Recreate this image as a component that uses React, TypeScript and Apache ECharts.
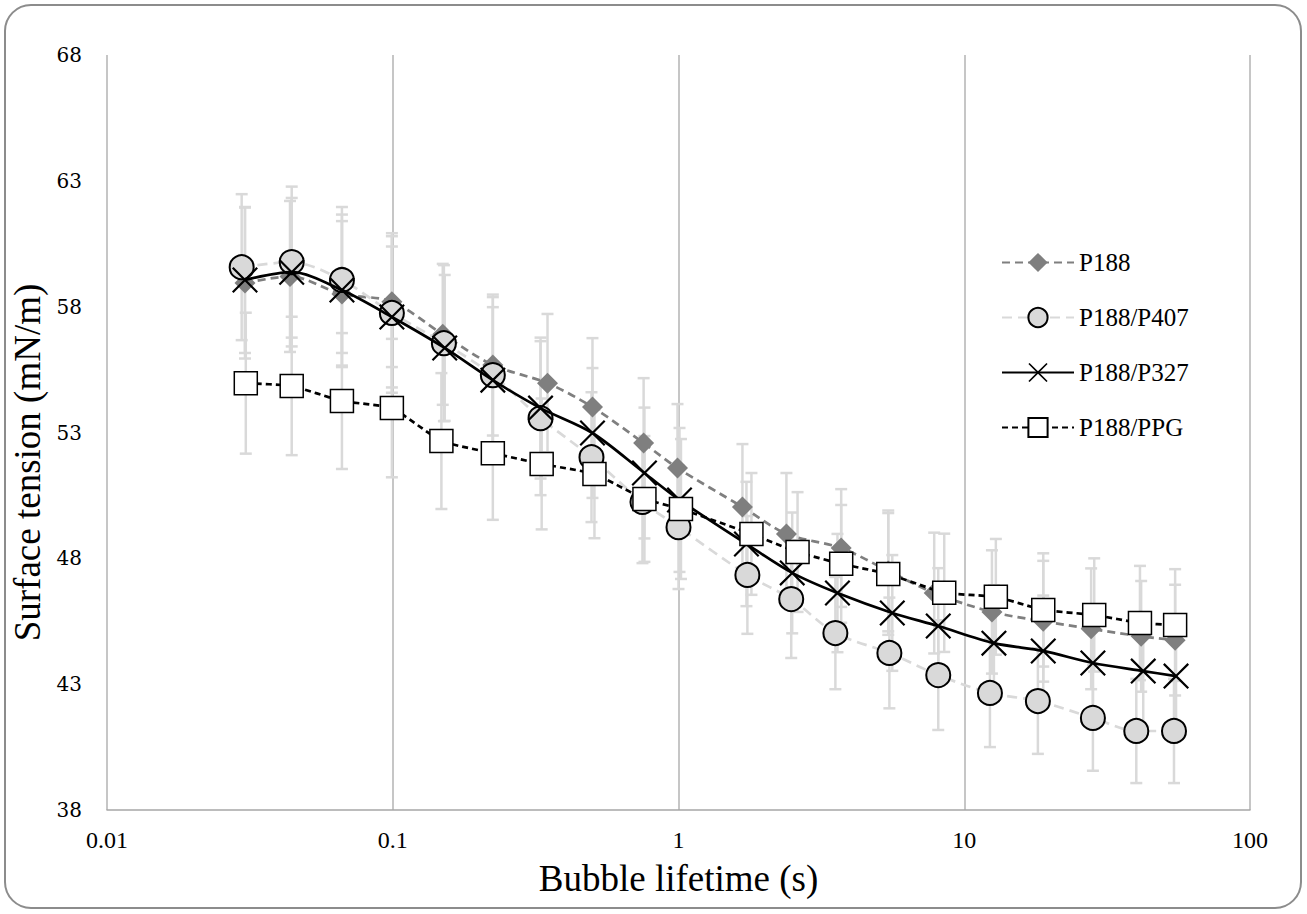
import React, { useEffect, useRef } from "react";
import * as echarts from "echarts";

// ---- data ----
const P188_X = [0.0304, 0.0437, 0.0664, 0.0993, 0.1496, 0.224, 0.348, 0.5, 0.755, 0.992, 1.674, 2.386, 3.71, 5.42, 7.85, 12.5, 18.9, 27.8, 41.6, 54.7];
const P188_Y = [58.94, 59.2, 58.5, 58.2, 56.9, 55.68, 54.96, 54.01, 52.58, 51.59, 50.04, 48.97, 48.41, 47.5, 46.62, 45.87, 45.5, 45.2, 44.9, 44.75];
const P188_ERR = [3.0, 3.0, 2.9, 2.6, 2.8, 2.8, 2.75, 2.74, 2.58, 2.54, 2.5, 2.42, 2.34, 2.4, 2.4, 2.45, 2.4, 2.4, 2.2, 2.2];

const P407_X = [0.0296, 0.0443, 0.0664, 0.0993, 0.151, 0.224, 0.329, 0.496, 0.748, 1.0, 1.742, 2.48, 3.54, 5.47, 8.11, 12.3, 18.1, 28.2, 40.0, 54.2];
const P407_Y = [59.57, 59.77, 59.06, 57.75, 56.55, 55.28, 53.57, 52.02, 50.24, 49.24, 47.34, 46.38, 45.03, 44.24, 43.36, 42.65, 42.33, 41.66, 41.14, 41.14];
const P407_ERR = [2.9, 3.0, 2.9, 3.17, 3.1, 3.1, 3.06, 2.58, 2.43, 2.46, 2.34, 2.34, 2.23, 2.2, 2.18, 2.15, 2.1, 2.1, 2.07, 2.07];

const P327_X = [0.0304, 0.0443, 0.0664, 0.0993, 0.152, 0.224, 0.329, 0.5, 0.76, 1.008, 1.729, 2.5, 3.6, 5.6, 8.11, 12.7, 18.9, 28.2, 42.3, 55.1];
const P327_Y = [59.06, 59.37, 58.66, 57.59, 56.36, 55.08, 53.97, 52.98, 51.39, 50.32, 48.57, 47.42, 46.62, 45.83, 45.31, 44.63, 44.32, 43.84, 43.52, 43.32];
const P327_ERR = [2.9, 2.95, 3.0, 2.8, 2.9, 2.9, 2.8, 2.58, 2.6, 2.86, 2.47, 2.4, 2.35, 2.3, 2.3, 2.3, 2.2, 2.2, 2.2, 2.2];

const PPG_X = [0.0306, 0.0443, 0.0664, 0.0993, 0.148, 0.224, 0.332, 0.508, 0.76, 1.02, 1.8, 2.61, 3.71, 5.42, 8.51, 12.9, 18.9, 28.5, 41.2, 54.7];
const PPG_Y = [54.96, 54.85, 54.25, 53.97, 52.66, 52.18, 51.75, 51.35, 50.36, 49.96, 48.97, 48.25, 47.78, 47.38, 46.63, 46.47, 45.95, 45.75, 45.43, 45.35];
const PPG_ERR = [2.8, 2.75, 2.7, 2.75, 2.7, 2.65, 2.6, 2.55, 2.5, 2.78, 2.42, 2.38, 2.34, 2.42, 2.35, 2.3, 2.25, 2.25, 2.27, 2.22];

const SERIES_NAMES = ["P188", "P188/P407", "P188/P327", "P188/PPG"];
const X_MIN = 0.01;
const X_MAX = 100;
const Y_MIN = 38;
const Y_MAX = 68;
const Y_STEP = 5;

const X_SYMBOL =
  "path://M0,6 L6,0 L50,44 L94,0 L100,6 L56,50 L100,94 L94,100 L50,56 L6,100 L0,94 L44,50 Z";

export default function App() {
  const ref = useRef<HTMLDivElement>(null);

  useEffect(() => {
    const chart = echarts.init(ref.current!, null, { renderer: "svg" });
    const serif = "Liberation Serif";

    const pts = (xs: number[], ys: number[]) => xs.map((x, i) => [x, ys[i]]);

    const errSeries = (name: string, xs: number[], ys: number[], errs: number[]) => ({
      type: "custom",
      name: name + " error",
      z: 1,
      silent: true,
      data: xs.map((x, i) => [x, ys[i] - errs[i], ys[i] + errs[i]]),
      encode: { x: 0, y: [1, 2] },
      renderItem: (_params: any, api: any) => {
        const x = api.value(0);
        const lo = api.coord([x, api.value(1)]);
        const hi = api.coord([x, api.value(2)]);
        const hw = 6;
        const style = { stroke: "#d9d9d9", lineWidth: 2.5 };
        return {
          type: "group",
          children: [
            { type: "line", shape: { x1: lo[0], y1: lo[1], x2: hi[0], y2: hi[1] }, style },
            { type: "line", shape: { x1: lo[0] - hw, y1: lo[1], x2: lo[0] + hw, y2: lo[1] }, style },
            { type: "line", shape: { x1: hi[0] - hw, y1: hi[1], x2: hi[0] + hw, y2: hi[1] }, style },
          ],
        };
      },
    });

    chart.setOption({
      animation: false,
      backgroundColor: "#ffffff",
      graphic: [
        {
          type: "rect",
          x: 5,
          y: 5,
          shape: { width: 1296, height: 903, r: 26 },
          style: { fill: "none", stroke: "#8c8c8c", lineWidth: 2 },
          z: -10,
          silent: true,
        },
      ],
      grid: { left: 107, right: 57, top: 55, bottom: 104 },
      legend: {
        data: SERIES_NAMES,
        orient: "vertical",
        left: 996,
        top: 245,
        itemWidth: 72,
        itemHeight: 24,
        itemGap: 30,
        textStyle: { fontFamily: serif, fontSize: 25, color: "#000" },
      },
      xAxis: {
        type: "log",
        logBase: 10,
        min: X_MIN,
        max: X_MAX,
        name: "Bubble lifetime (s)",
        nameLocation: "middle",
        nameGap: 50,
        nameTextStyle: { fontFamily: serif, fontSize: 37, color: "#000" },
        axisLine: { show: true, lineStyle: { color: "#a6a6a6", width: 1.5 } },
        axisTick: { show: false },
        axisLabel: {
          fontFamily: serif,
          fontSize: 24,
          color: "#000",
          margin: 18,
          formatter: (v: number) => String(Number(v.toPrecision(6))),
        },
        splitLine: { show: true, lineStyle: { color: "#b3b3b3", width: 1.5 } },
      },
      yAxis: {
        type: "value",
        min: Y_MIN,
        max: Y_MAX,
        interval: Y_STEP,
        name: "Surface tension (mN/m)",
        nameLocation: "middle",
        nameGap: 46,
        nameTextStyle: { fontFamily: serif, fontSize: 37, color: "#000", padding: [0, 60, 0, 0] },
        axisLine: { show: false },
        axisTick: { show: false },
        splitLine: { show: false },
        axisLabel: { fontFamily: "DejaVu Serif", fontSize: 20, color: "#000", margin: 25 },
      },
      series: [
        errSeries("P188", P188_X, P188_Y, P188_ERR),
        errSeries("P188/P407", P407_X, P407_Y, P407_ERR),
        errSeries("P188/P327", P327_X, P327_Y, P327_ERR),
        errSeries("P188/PPG", PPG_X, PPG_Y, PPG_ERR),
        {
          type: "line",
          name: "P188",
          z: 2,
          data: pts(P188_X, P188_Y),
          smooth: 0.3,
          symbol: "diamond",
          symbolSize: 21,
          itemStyle: { color: "#7f7f7f" },
          lineStyle: { color: "#7f7f7f", width: 2.7, type: [8, 5] },
        },
        {
          type: "line",
          name: "P188/P407",
          z: 3,
          data: pts(P407_X, P407_Y),
          smooth: 0.3,
          symbol: "circle",
          symbolSize: 24,
          itemStyle: { color: "#d9d9d9", borderColor: "#000", borderWidth: 2 },
          lineStyle: { color: "#d9d9d9", width: 2.7, type: [10, 6] },
        },
        {
          type: "line",
          name: "P188/P327",
          z: 4,
          data: pts(P327_X, P327_Y),
          smooth: 0.3,
          symbol: X_SYMBOL,
          symbolSize: 26,
          itemStyle: { color: "#000" },
          lineStyle: { color: "#000", width: 2.7 },
        },
        {
          type: "line",
          name: "P188/PPG",
          z: 5,
          data: pts(PPG_X, PPG_Y),
          smooth: 0.15,
          symbol: "rect",
          symbolSize: 23,
          itemStyle: { color: "#ffffff", borderColor: "#000", borderWidth: 1.5 },
          lineStyle: { color: "#000", width: 2.7, type: [6, 4] },
        },
      ],
    });

    return () => chart.dispose();
  }, []);

  return (
    <div
      ref={ref}
      style={{ position: "absolute", left: 0, top: 0, width: 1307, height: 914 }}
    />
  );
}
